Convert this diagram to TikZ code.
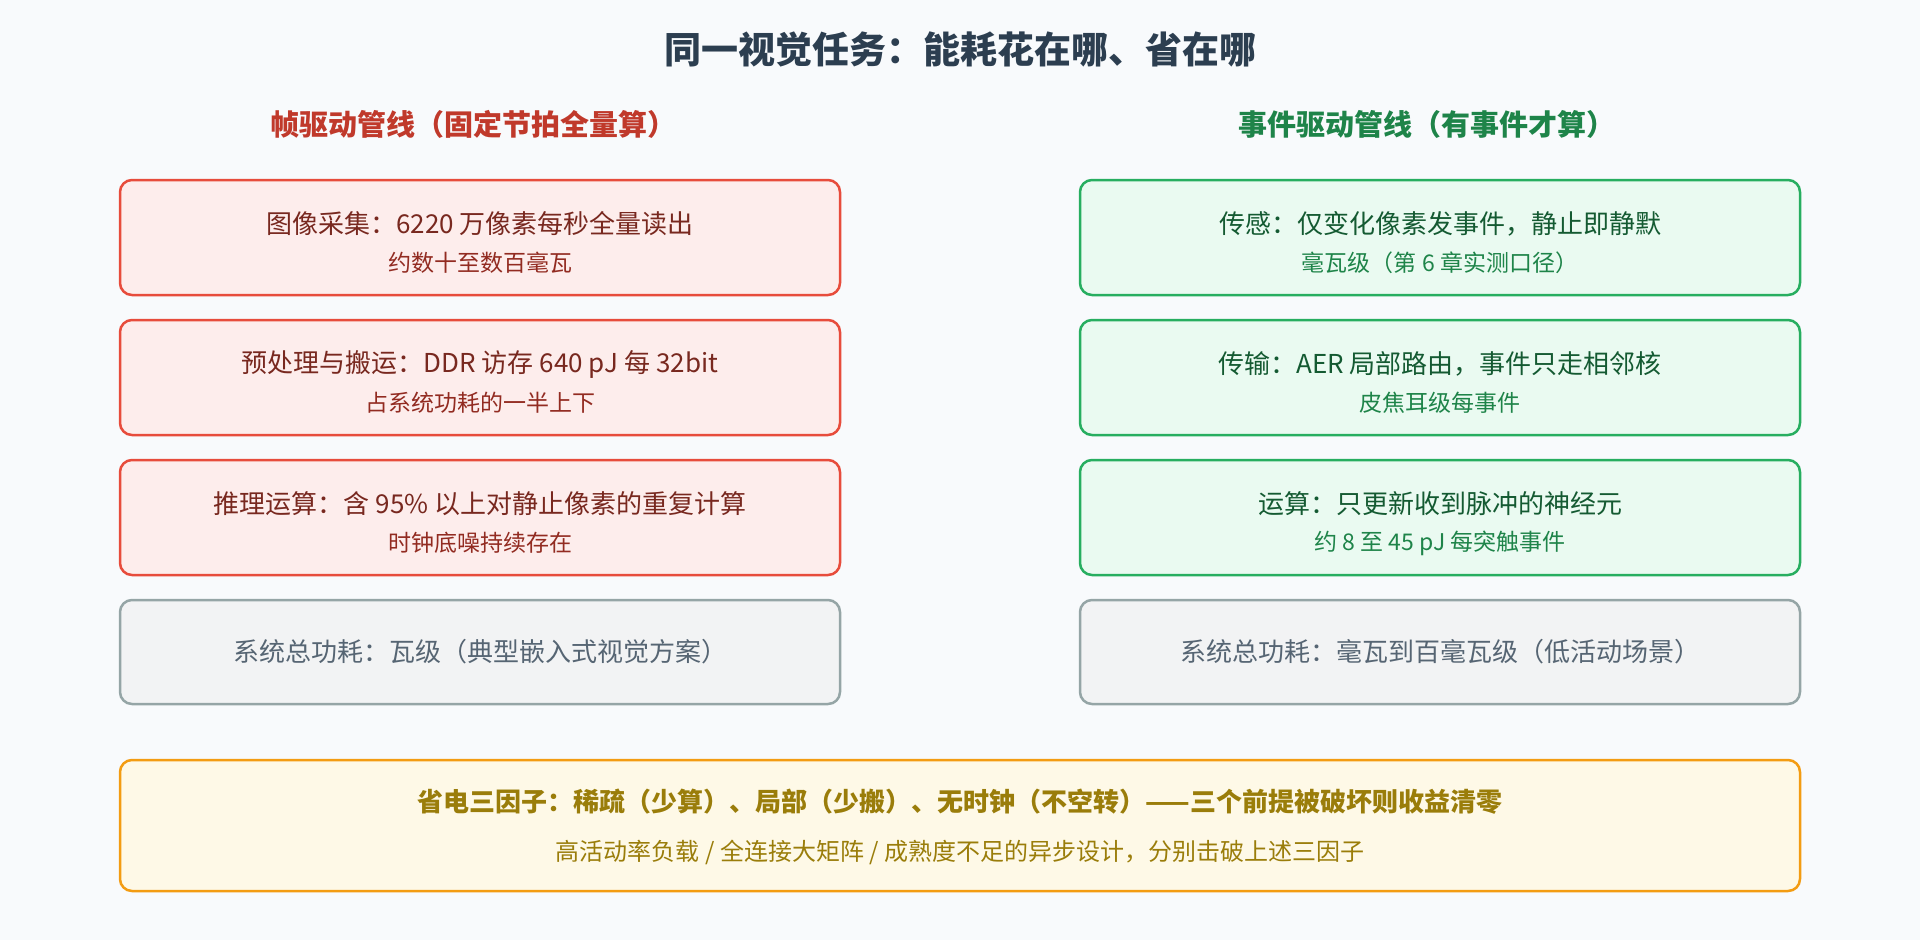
\documentclass[tikz,border=0pt]{standalone}
\usepackage{fontspec}
\setmainfont{Noto Sans CJK SC}
\usepackage{tikz}

\definecolor{bgcol}{HTML}{F8FAFC}
\definecolor{titlecol}{HTML}{2C3E50}
\definecolor{redhead}{HTML}{C0392B}
\definecolor{redline}{HTML}{E74C3C}
\definecolor{redfill}{HTML}{FDEDEC}
\definecolor{redtext}{HTML}{78281F}
\definecolor{redsubtext}{HTML}{922B21}
\definecolor{greenhead}{HTML}{1E8449}
\definecolor{greenline}{HTML}{27AE60}
\definecolor{greenfill}{HTML}{EAFAF1}
\definecolor{greentext}{HTML}{145A32}
\definecolor{greensubtext}{HTML}{1E8449}
\definecolor{grayline}{HTML}{95A5A6}
\definecolor{grayfill}{HTML}{F2F3F4}
\definecolor{graytext}{HTML}{566573}
\definecolor{goldline}{HTML}{F39C12}
\definecolor{goldfill}{HTML}{FEF9E7}
\definecolor{goldtext}{HTML}{9A7D0A}

\begin{document}
\begin{tikzpicture}[x=1pt,y=-1pt,
	box/.style={rounded corners=12pt, line width=2.5pt, minimum width=720pt, minimum height=115pt, inner sep=0pt},
	redbox/.style={box, draw=redline, fill=redfill},
	greenbox/.style={box, draw=greenline, fill=greenfill},
	graybox/.style={box, draw=grayline, fill=grayfill, minimum height=104pt},
	mainline/.style={inner sep=0pt, font=\fontsize{26}{30}\selectfont},
	subline/.style={inner sep=0pt, font=\fontsize{23}{27}\selectfont},
	head/.style={inner sep=0pt, font=\fontsize{29}{33}\selectfont\bfseries}]
			\fill[bgcol] (0, 0) rectangle (1920, 940);

			\node[inner sep=0pt, text=titlecol, font=\fontsize{37}{41}\selectfont\bfseries] (title) at (960, 49){同一视觉任务：能耗花在哪、省在哪};

			\node[head, text=redhead] (framehead) at (473, 124){帧驱动管线（固定节拍全量算）};
			\node[head, text=greenhead] (eventhead) at (1427, 124){事件驱动管线（有事件才算）};

			% frame driven
			\node[redbox] (capture) at (480, 237.5){};
			\node[mainline, text=redtext] (captureA) at (480, 224){图像采集：6220 万像素每秒全量读出};
			\node[subline, text=redsubtext] (captureB) at (480, 263){约数十至数百毫瓦};

			\node[redbox] (move) at (480, 377.5){};
			\node[mainline, text=redtext] (moveA) at (480, 364){预处理与搬运：DDR 访存 640 pJ 每 32bit};
			\node[subline, text=redsubtext] (moveB) at (480, 403){占系统功耗的一半上下};

			\node[redbox] (infer) at (480, 517.5){};
			\node[mainline, text=redtext] (inferA) at (480, 504){推理运算：含 95\% 以上对静止像素的重复计算};
			\node[subline, text=redsubtext] (inferB) at (480, 543){时钟底噪持续存在};

			\node[graybox] (frametotal) at (480, 652){};
			\node[mainline, text=graytext] (frametotalA) at (480, 652){系统总功耗：瓦级（典型嵌入式视觉方案）};

			% event driven
			\node[greenbox] (sense) at (1440, 237.5){};
			\node[mainline, text=greentext] (senseA) at (1440, 224){传感：仅变化像素发事件，静止即静默};
			\node[subline, text=greensubtext] (senseB) at (1440, 263){毫瓦级（第 6 章实测口径）};

			\node[greenbox] (route) at (1440, 377.5){};
			\node[mainline, text=greentext] (routeA) at (1440, 364){传输：AER 局部路由，事件只走相邻核};
			\node[subline, text=greensubtext] (routeB) at (1440, 403){皮焦耳级每事件};

			\node[greenbox] (update) at (1440, 517.5){};
			\node[mainline, text=greentext] (updateA) at (1440, 504){运算：只更新收到脉冲的神经元};
			\node[subline, text=greensubtext] (updateB) at (1440, 543){约 8 至 45 pJ 每突触事件};

			\node[graybox] (eventtotal) at (1440, 652){};
			\node[mainline, text=graytext] (eventtotalA) at (1440, 652){系统总功耗：毫瓦到百毫瓦级（低活动场景）};

			% three factors
			\node[box, draw=goldline, fill=goldfill, minimum width=1680pt, minimum height=131pt] (factor) at (960, 825.5){};
			\node[inner sep=0pt, text=goldtext, font=\fontsize{26}{30}\selectfont\bfseries] (factorA) at (960, 802){省电三因子：稀疏（少算）、局部（少搬）、无时钟（不空转）——三个前提被破坏则收益清零};
			\node[subline, text=goldtext, font=\fontsize{24}{28}\selectfont] (factorB) at (960, 852){高活动率负载 / 全连接大矩阵 / 成熟度不足的异步设计，分别击破上述三因子};
		\end{tikzpicture}
\end{document}
